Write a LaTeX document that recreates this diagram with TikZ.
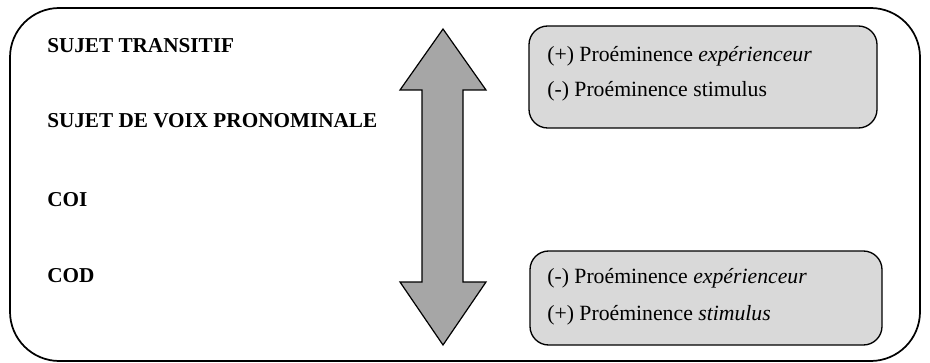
\documentclass[tikz,border=0pt]{standalone}
\usepackage{fontspec}
\setmainfont{Liberation Serif}
\begin{document}
\begin{tikzpicture}[x=0.75pt,y=-0.75pt,
  frame/.style={draw=black,line width=1.3pt,rounded corners=37pt},
  infobox/.style={draw=black,line width=1pt,fill=boxgray,rounded corners=14pt},
  bigarrow/.style={draw=black,line width=0.9pt,fill=arrowgray},
  lbl/.style={anchor=base west,inner sep=0pt,font=\fontsize{15.9pt}{18pt}\selectfont\bfseries},
  txt/.style={anchor=base west,inner sep=0pt,font=\fontsize{16.3pt}{18pt}\selectfont}]
\definecolor{boxgray}{HTML}{D9D9D9}
\definecolor{arrowgray}{HTML}{A6A6A6}
\useasboundingbox (0,0) rectangle (930,363);
\draw[frame] (10,8) rectangle (920,361);
\draw[bigarrow] (443,29) -- (486,90) -- (463,90) -- (463,282) -- (486,282) -- (443,345)
  -- (400,282) -- (422,282) -- (422,90) -- (400,90) -- cycle;
\draw[infobox] (529,26) rectangle (877,128);
\draw[infobox] (530,251) rectangle (882,345);
\node[lbl] (st) at (47,53) {SUJET TRANSITIF};
\node[lbl] (svp) at (47,128) {SUJET DE VOIX PRONOMINALE};
\node[lbl] (coi) at (47,206) {COI};
\node[lbl] (cod) at (47,282) {COD};
\node[txt] (t1) at (547,62) {(+) Proéminence \textit{expérienceur}};
\node[txt] (t2) at (547,97) {(-) Proéminence stimulus};
\node[txt] (t3) at (547,283) {(-) Proéminence \textit{expérienceur}};
\node[txt] (t4) at (547,320) {(+) Proéminence \textit{stimulus}};
\end{tikzpicture}
\end{document}
